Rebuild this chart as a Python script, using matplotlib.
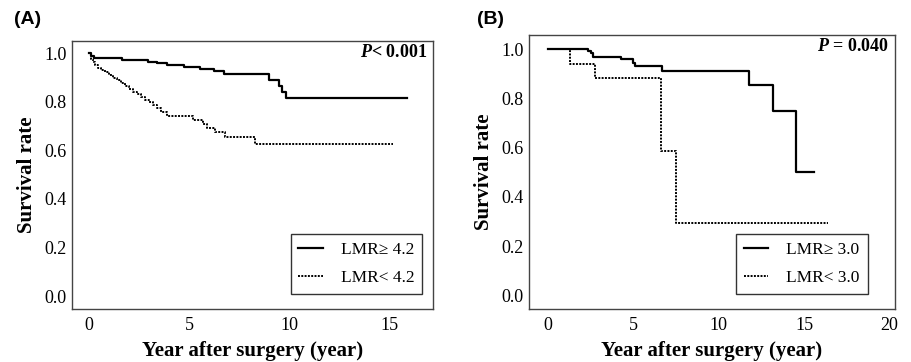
import matplotlib
matplotlib.use("Agg")
import matplotlib.pyplot as plt

plt.rcParams['font.family'] = ['Liberation Serif', 'DejaVu Serif']
plt.rcParams['mathtext.fontset'] = 'custom'
plt.rcParams['mathtext.it'] = 'Liberation Serif:italic:bold'

# (A) LMR cut-off 4.2
a_high_t = [0, 0.1, 0.25, 1.65, 2.97, 3.4, 3.9, 4.73, 5.56, 6.23, 6.73, 9.0, 9.5, 9.65, 9.85, 15.9]
a_high_s = [1.0, 0.99, 0.979, 0.972, 0.966, 0.96, 0.952, 0.945, 0.937, 0.928, 0.915, 0.89, 0.865, 0.842, 0.817, 0.817]
a_low_t = [0, 0.1, 0.2, 0.3, 0.45, 0.6, 0.8, 1.0, 1.2, 1.4, 1.6, 1.8, 2.0, 2.2, 2.4, 2.6, 2.8,
           3.0, 3.2, 3.4, 3.6, 3.9, 5.2, 5.7, 5.9, 6.3, 6.8, 8.3, 15.2]
a_low_s = [1.0, 0.978, 0.963, 0.951, 0.941, 0.931, 0.921, 0.911, 0.898, 0.888, 0.877, 0.865, 0.854,
           0.842, 0.832, 0.82, 0.809, 0.798, 0.787, 0.774, 0.76, 0.741, 0.727, 0.707, 0.692, 0.677,
           0.657, 0.626, 0.626]

# (B) LMR cut-off 3.0
b_high_t = [0, 2.36, 2.55, 2.65, 4.31, 4.97, 5.09, 6.7, 11.8, 13.2, 14.5, 15.6]
b_high_s = [1.0, 0.995, 0.985, 0.97, 0.959, 0.945, 0.932, 0.912, 0.857, 0.751, 0.5, 0.5]
b_low_t = [0, 1.3, 2.75, 6.65, 7.52, 16.4]
b_low_s = [1.0, 0.941, 0.882, 0.588, 0.294, 0.294]

yticks = [0.0, 0.2, 0.4, 0.6, 0.8, 1.0]

panels = [
    dict(tag="(A)", rect=[0.079, 0.146, 0.396, 0.741], xlim=(-0.85, 17.2), ylim=(-0.054, 1.051),
         xticks=[0, 5, 10, 15], p="$P$< 0.001", labels=["LMR\u2265 4.2", "LMR< 4.2"],
         high=(a_high_t, a_high_s), low=(a_low_t, a_low_s), tagx=0.015, leg=(0.97, 0.056)),
    dict(tag="(B)", rect=[0.580, 0.146, 0.401, 0.757], xlim=(-1.1, 20.3), ylim=(-0.056, 1.058),
         xticks=[0, 5, 10, 15, 20], p="$P$ = 0.040", labels=["LMR\u2265 3.0", "LMR< 3.0"],
         high=(b_high_t, b_high_s), low=(b_low_t, b_low_s), tagx=0.523, leg=(0.926, 0.055)),
]

fig = plt.figure(figsize=(9.12, 3.62), dpi=100)
for pn in panels:
    ax = fig.add_axes(pn["rect"])
    ax.plot(*pn["high"], drawstyle='steps-post', color='black', lw=1.6, label=pn["labels"][0])
    ax.plot(*pn["low"], drawstyle='steps-post', color='black', lw=1.4, linestyle=(0, (1, 0.7)),
            label=pn["labels"][1])
    ax.set_xlim(*pn["xlim"])
    ax.set_ylim(*pn["ylim"])
    ax.set_xticks(pn["xticks"])
    ax.set_yticks(yticks)
    ax.set_yticklabels([f"{v:.1f}" for v in yticks])
    ax.tick_params(length=0, labelsize=13)
    ax.tick_params(axis='y', pad=4)
    ax.tick_params(axis='x', pad=6)
    for s in ax.spines.values():
        s.set_color('#444444')
        s.set_linewidth(1.0)
    ax.set_xlabel("Year after surgery (year)", fontsize=15, fontweight='bold', labelpad=5)
    ax.set_ylabel("Survival rate", fontsize=15, fontweight='bold', labelpad=5)
    ax.text(0.985, 0.99, pn["p"], transform=ax.transAxes, ha='right', va='top',
            fontsize=13, fontweight='bold')
    leg = ax.legend(loc='lower right', bbox_to_anchor=pn["leg"], fontsize=12.5,
                    frameon=True, fancybox=False, edgecolor='black', handlelength=1.4,
                    handletextpad=1.05, borderpad=0.45, labelspacing=0.72, borderaxespad=0)
    leg.get_frame().set_linewidth(1.0)
    fig.text(pn["tagx"], 0.97, pn["tag"], fontsize=14, fontweight='bold',
             family='Liberation Sans', ha='left', va='top')

fig.savefig("out.png", dpi=100)
